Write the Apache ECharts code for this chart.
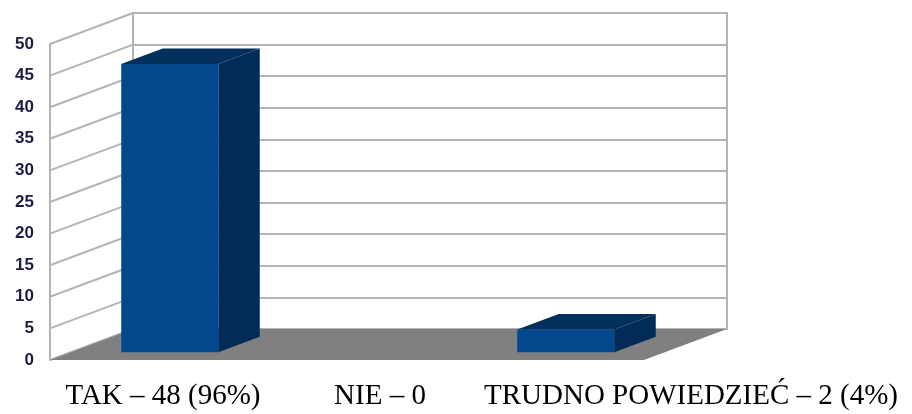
<!DOCTYPE html>
<html><head><meta charset="utf-8">
<script src="https://cdn.jsdelivr.net/npm/echarts@6/dist/echarts.min.js"></script>
<style>html,body{margin:0;padding:0;background:#fff}#c{width:912px;height:414px}</style>
</head><body><div id="c"></div>
<script>
var categories = ['TAK – 48 (96%)', 'NIE – 0', 'TRUDNO POWIEDZIEĆ – 2 (4%)'];
var values = [45.6, 0, 3.6];
var yTicks = [0, 5, 10, 15, 20, 25, 30, 35, 40, 45, 50];

var DX = 83, DY = -31;           // full depth of the 3D box
var D1 = 0.25, D2 = 0.75;        // bar depth range
var WALL = '#b4b4b4';

var chart = echarts.init(document.getElementById('c'));
var labelCenterX = [163, 380, 691];

chart.setOption({
  animation: false,
  backgroundColor: '#fff',
  grid: [
    {left: 50, top: 44, width: 594, height: 316},
    {left: 133, top: 13, width: 594, height: 316, show: true, borderColor: WALL, borderWidth: 2, backgroundColor: '#fff', z: 0}
  ],
  xAxis: [
    {type: 'category', gridIndex: 0, data: categories, axisLine: {show: false}, axisTick: {show: false}, axisLabel: {show: false}},
    {type: 'category', gridIndex: 1, data: categories, show: false}
  ],
  yAxis: [
    {type: 'value', gridIndex: 0, min: 0, max: 50, interval: 5,
     axisLine: {show: true, lineStyle: {color: WALL, width: 2}}, axisTick: {show: false}, splitLine: {show: false},
     axisLabel: {margin: 16, color: '#1c1c46', fontFamily: 'Liberation Sans', fontSize: 17, fontWeight: 'bold'}},
    {type: 'value', gridIndex: 1, min: 0, max: 50, interval: 5, axisLine: {show: false}, axisTick: {show: false},
     axisLabel: {show: false}, splitLine: {show: true, lineStyle: {color: WALL, width: 2}}}
  ],
  series: [
    { // left wall lines
      type: 'custom', xAxisIndex: 0, yAxisIndex: 0, z: 1, silent: true,
      data: yTicks.map(function (t) { return [0, t]; }),
      renderItem: function (params, api) {
        var cs = params.coordSys;
        var p = api.coord([0, api.value(1)]);
        return {type: 'line', shape: {x1: cs.x, y1: p[1], x2: cs.x + DX, y2: p[1] + DY},
          style: {stroke: WALL, lineWidth: 2}};
      }
    },
    { // floor
      type: 'custom', xAxisIndex: 0, yAxisIndex: 0, z: 2, silent: true,
      data: [[0, 0]],
      renderItem: function (params, api) {
        var cs = params.coordSys;
        var b = api.coord([0, 0])[1];
        var l = cs.x, r = cs.x + cs.width;
        return {type: 'polygon', shape: {points: [[l, b], [l + DX, b + DY], [r + DX, b + DY], [r, b]]},
          style: {fill: '#808080'}};
      }
    },
    { // 3D bars
      type: 'custom', xAxisIndex: 0, yAxisIndex: 0, z: 3, silent: true,
      data: values.map(function (v, i) { return [i, v]; }),
      renderItem: function (params, api) {
        var v = api.value(1);
        if (!v) return null;
        var top = api.coord([api.value(0), v]);
        var bot = api.coord([api.value(0), 0]);
        var w = api.size([1, 0])[0] * 0.49;
        var fx = DX * D1, fy = DY * D1, bx = DX * D2, by = DY * D2;
        var x0 = top[0] - w / 2 + fx, x1 = top[0] + w / 2 + fx;
        var yt = top[1] + fy, yb = bot[1] + fy;
        var ddx = bx - fx, ddy = by - fy;
        return {type: 'group', children: [
          {type: 'polygon', shape: {points: [[x1, yt], [x1 + ddx, yt + ddy], [x1 + ddx, yb + ddy], [x1, yb]]},
            style: {fill: '#022b57'}},
          {type: 'polygon', shape: {points: [[x0, yt], [x1, yt], [x1 + ddx, yt + ddy], [x0 + ddx, yt + ddy]]},
            style: {fill: '#032f5d'}},
          {type: 'rect', shape: {x: x0, y: yt, width: x1 - x0, height: yb - yt},
            style: {fill: '#03488c'}}
        ]};
      }
    }
  ],
  graphic: categories.map(function (c, i) {
    return {type: 'text', x: labelCenterX[i], y: 382, silent: true,
      style: {text: c, fill: '#000', font: '29px "Liberation Serif"', align: 'center', verticalAlign: 'top'}};
  })
});
</script></body></html>
